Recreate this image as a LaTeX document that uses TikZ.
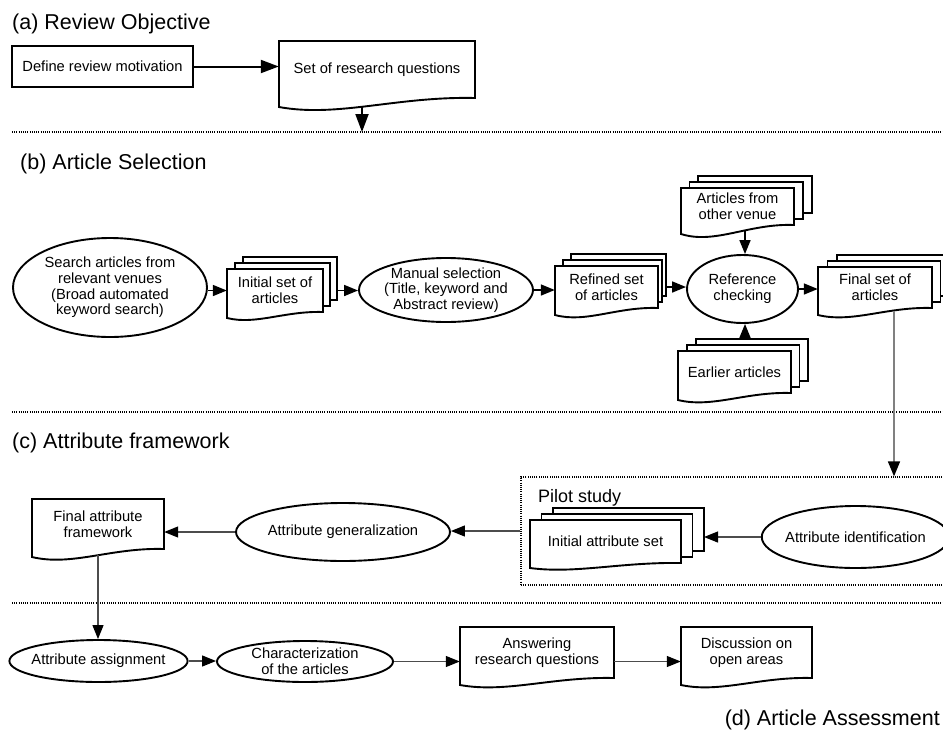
\documentclass[tikz,border=0pt]{standalone}
\usepackage{fontspec}
\setmainfont{Liberation Sans}
\usetikzlibrary{arrows.meta,calc,shapes.geometric}
\tikzset{
  shapeline/.style={draw=black, line width=1.9pt, line join=miter},
  txt/.style={font=\fontsize{14.7}{15.6}\selectfont, align=center},
  ell/.style={ellipse, shapeline, fill=white, txt, inner sep=-4pt},
  procbox/.style={rectangle, shapeline, fill=white, txt, inner sep=0pt},
  titletxt/.style={font=\fontsize{21.5}{24}\selectfont, inner sep=0pt},
  pilottxt/.style={font=\fontsize{18}{20}\selectfont, inner sep=0pt},
  sep/.style={line width=1.1pt, dash pattern=on 1pt off 1.2pt},
  pilotbox/.style={draw=black, line width=1.3pt, dash pattern=on 1pt off 1.2pt, inner sep=0pt},
  bigarr/.style={line width=2pt, -{Triangle[length=18pt,width=13pt,color=black]}},
  arr/.style={line width=1.7pt, -{Triangle[length=14pt,width=11pt,color=black]}},
  thinarr/.style={line width=1.2pt, draw=black!70, -{Triangle[length=14pt,width=11pt,color=black]}},
  grayarr/.style={line width=1.7pt, draw=black!50, -{Triangle[length=15pt,width=12pt,color=black]}},
}
% document: name x1 y1 x2 yR d text
\newcommand\docshape[7]{%
  \draw[shapeline, fill=white] (#2,#3) -- (#4,#3) -- (#4,#5)
    .. controls ({#4-0.4*(#4-#2)},{#5-0.2*#6}) and ({#2+0.3*(#4-#2)},{#5+2.2*#6}) .. (#2,{#5+#6}) -- cycle;
  \node[txt, inner sep=0pt, minimum width={#4-#2}, minimum height={#5-#3}] (#1) at ({(#2+#4)/2},{(#3+#5)/2}) {#7};
}
% multi document: name x1 y1 x2 yR d dxl dxr text
\newcommand\mdocshape[9]{%
  \draw[shapeline, fill=white] ({#2+2*#7},{#3-12}) rectangle ({#4+2*#8},{#5-12});
  \draw[shapeline, fill=white] ({#2+#7},{#3-6}) rectangle ({#4+#8},{#5-6});
  \docshape{#1}{#2}{#3}{#4}{#5}{#6}{#9}
  \coordinate (#1 back) at ({#4+2*#8},{(#3+#5)/2});
}
\begin{document}
\begin{tikzpicture}[x=1pt,y=-1pt]
\useasboundingbox (0,0) rectangle (943,729);

% separators
\coordinate (s1l) at (12,132); \coordinate (s1r) at (943,132);
\coordinate (s2l) at (12,412); \coordinate (s2r) at (943,412);
\coordinate (s3l) at (12,603); \coordinate (s3r) at (943,603);
\draw[sep] (s1l) -- (s1r);
\draw[sep] (s2l) -- (s2r);
\draw[sep] (s3l) -- (s3r);

% titles
\node[titletxt, anchor=base west] (ta) at (12,29) {(a) Review Objective};
\node[titletxt, anchor=base west] (tb) at (20,169) {(b) Article Selection};
\node[titletxt, anchor=base west] (tc) at (12,448) {(c) Attribute framework};
\node[titletxt, anchor=base east] (td) at (940,725) {(d) Article Assessment};

% (a)
\node[procbox, minimum width=181, minimum height=41] (motiv) at (102.5,66.5) {Define review motivation};
\docshape{rq}{279}{41}{475}{98}{9}{Set of research questions}
\draw[bigarr] (motiv.east) -- (motiv.east -| rq.west);
\coordinate (rqout) at (362,106);
\draw[bigarr] (rqout) -- (rqout |- s1l);

% (b)
\node[ell, minimum width=194, minimum height=99] (search) at (110,287.5)
  {Search articles from\\relevant venues\\(Broad automated\\keyword search)};
\mdocshape{init}{227}{269}{323}{312}{6}{8}{7}{Initial set of\\articles}
\node[ell, minimum width=174, minimum height=64] (manual) at (446,290)
  {Manual selection\\(Title, keyword and\\Abstract review)};
\mdocshape{refined}{555}{266}{658}{308}{7}{8}{4}{Refined set\\of articles}
\node[ell, minimum width=111, minimum height=68] (refcheck) at (742.5,289)
  {Reference\\checking};
\mdocshape{other}{681}{188}{794}{225}{9}{8.5}{9}{Articles from\\other venue}
\mdocshape{earlier}{678}{351}{791}{393}{7}{9}{8.5}{Earlier articles}
\mdocshape{final}{818}{267}{932}{308}{7}{9.5}{8.5}{Final set of\\articles}

\draw[arr] (search.east |- init.west) -- (init.west);
\draw[arr] (init back) -- (init back -| manual.west);
\draw[arr] (manual.east) -- (manual.east -| refined.west);
\draw[arr] (refined back) -- (refined back -| refcheck.west);
\draw[arr] (refcheck.east) -- (refcheck.east -| final.west);
\coordinate (otherout) at (745,231);
\draw[arr] (otherout) -- (otherout |- refcheck.north);
\coordinate (earliertop) at (745,339);
\draw[arr] (earliertop) -- (earliertop |- refcheck.south);

% (c)
\node[pilotbox, minimum width=425, minimum height=108] (pilot) at (733.5,531) {};
\node[pilottxt, anchor=base west] (pilotlabel) at (538,502) {Pilot study};
\docshape{fattr}{32}{499}{164}{549}{8}{Final attribute\\framework}
\node[ell, minimum width=214, minimum height=58] (gen) at (343,532) {Attribute generalization};
\mdocshape{initattr}{530}{520}{681}{563}{5}{11.5}{11.5}{Initial attribute set}
\node[ell, minimum width=175, minimum height=62] (ident) at (855.5,537) {Attribute identification};

\coordinate (finalout) at (894,311);
\draw[grayarr] (finalout) -- (finalout |- pilot.north);
\draw[thinarr] (ident.west) -- (ident.west -| initattr back);
\draw[thinarr] (pilot.west) -- (pilot.west -| gen.east);
\draw[thinarr] (gen.west) -- (gen.west -| fattr.east);

% (d)
\node[ell, minimum width=153, minimum height=42] (assign) at (98.5,661) {Attribute assignment};
\node[ell, minimum width=176, minimum height=41] (charac) at (305,661.5) {Characterization\\of the articles};
\docshape{answer}{460}{627}{614}{678}{7}{Answering\\research questions}
\docshape{discuss}{681}{627}{812}{678}{7}{Discussion on\\open areas}

\coordinate (fattrout) at (98,555);
\draw[thinarr] (fattrout) -- (fattrout |- assign.north);
\draw[thinarr] (assign.east) -- (assign.east -| charac.west);
\draw[thinarr] (charac.east) -- (charac.east -| answer.west);
\draw[thinarr] (answer.east |- charac.east) -- (discuss.west |- charac.east);
\end{tikzpicture}
\end{document}
